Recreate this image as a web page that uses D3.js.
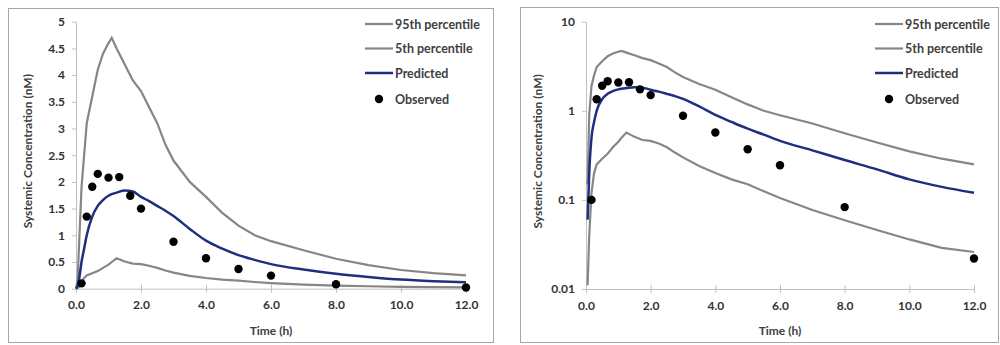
<!DOCTYPE html>
<html>
<head>
<meta charset="utf-8">
<script src="https://cdn.jsdelivr.net/npm/d3@7"></script>
<style>
  body { margin: 0; background: #fff; }
  svg text { font-family: Lato, "Open Sans", sans-serif; font-weight: bold; fill: #404040; }
</style>
</head>
<body>
<svg id="chart" width="1000" height="345"></svg>
<script>
// model time grid (h)
const modelTime = [0, 0.05, 0.1, 0.17, 0.25, 0.33, 0.5, 0.67, 0.83, 1.0, 1.1, 1.25, 1.5, 1.75, 2.0, 2.25, 2.5, 2.75, 3.0, 3.5, 4.0, 4.5, 5.0, 5.5, 6.0, 7.0, 8.0, 9.0, 10.0, 11.0, 12.0];
const p95 = [0, 0.15, 0.9, 1.9, 2.5, 3.1, 3.6, 4.1, 4.4, 4.6, 4.7, 4.5, 4.2, 3.9, 3.7, 3.4, 3.1, 2.7, 2.4, 2.0, 1.72, 1.42, 1.18, 1.0, 0.89, 0.72, 0.56, 0.44, 0.35, 0.29, 0.25];
const p05 = [0, 0.011, 0.04, 0.12, 0.2, 0.25, 0.29, 0.33, 0.39, 0.45, 0.5, 0.57, 0.51, 0.47, 0.46, 0.43, 0.39, 0.34, 0.30, 0.24, 0.20, 0.17, 0.15, 0.125, 0.105, 0.077, 0.059, 0.046, 0.036, 0.029, 0.026];
const predicted = [0, 0.06, 0.2, 0.5, 0.75, 1.0, 1.35, 1.55, 1.66, 1.74, 1.77, 1.8, 1.84, 1.82, 1.72, 1.64, 1.55, 1.46, 1.36, 1.12, 0.9, 0.75, 0.63, 0.54, 0.46, 0.36, 0.28, 0.22, 0.17, 0.14, 0.12];

// observed data
const obsTime = [0.17, 0.33, 0.5, 0.67, 1.0, 1.33, 1.67, 2.0, 3.0, 4.0, 5.0, 6.0, 8.0, 12.0];
const observed = [0.1, 1.35, 1.91, 2.15, 2.08, 2.09, 1.74, 1.5, 0.88, 0.57, 0.37, 0.245, 0.083, 0.022];

const xTicks = [0, 2, 4, 6, 8, 10, 12];
const linTicks = [0, 0.5, 1, 1.5, 2, 2.5, 3, 3.5, 4, 4.5, 5];
const logTicks = [0.01, 0.1, 1, 10];

const legendNames = ['95th percentile', '5th percentile', 'Predicted', 'Observed'];
const gray = '#868686', blue = '#1f2f80';

const svg = d3.select('#chart');

function panel(opt) {
  const g = svg.append('g');
  // frame
  g.append('rect')
    .attr('x', opt.box[0] + 0.5).attr('y', opt.box[1] + 0.5)
    .attr('width', opt.box[2]).attr('height', opt.box[3])
    .attr('fill', 'none').attr('stroke', '#a6a6a6');

  const x = d3.scaleLinear().domain([0, 12]).range([opt.left, opt.right]);
  const y = opt.log
    ? d3.scaleLog().domain([0.01, 10]).range([opt.bottom, opt.top])
    : d3.scaleLinear().domain([0, 5]).range([opt.bottom, opt.top]);

  // x axis
  const xa = g.append('g').attr('transform', `translate(0,${opt.bottom})`)
    .call(d3.axisBottom(x).tickValues(xTicks).tickFormat(d3.format('.1f')).tickSizeInner(4).tickSizeOuter(0).tickPadding(8));
  xa.selectAll('.tick line').attr('y1', -4);
  // y axis
  const ya = g.append('g').attr('transform', `translate(${opt.left},0)`)
    .call(d3.axisLeft(y).tickValues(opt.log ? logTicks : linTicks)
      .tickFormat(opt.log ? d => d3.format('')(d) : d => d).tickSizeInner(4).tickSizeOuter(0).tickPadding(7));
  g.selectAll('.domain, .tick line').attr('stroke', '#c0c0c0');
  g.selectAll('.tick text').style('font-size', '12px').style('fill', '#333');

  // titles
  g.append('text').attr('x', (opt.left + opt.right) / 2).attr('y', 335)
    .attr('text-anchor', 'middle').style('font-size', '12px').text('Time (h)');
  g.append('text')
    .attr('transform', `translate(${opt.titleX},${(opt.top + opt.bottom) / 2 - 4}) rotate(-90)`)
    .attr('text-anchor', 'middle').style('font-size', '12px').text('Systemic Concentration (nM)');

  const ok = v => !opt.log || v > 0;
  const line = (vals, curve) => d3.line()
    .defined((d, i) => ok(vals[i]))
    .x((d, i) => x(modelTime[i]))
    .y((d, i) => y(vals[i]))
    .curve(curve || d3.curveLinear)(vals);

  g.append('path').attr('d', line(p95)).attr('fill', 'none').attr('stroke', gray).attr('stroke-width', 2.2);
  g.append('path').attr('d', line(p05)).attr('fill', 'none').attr('stroke', gray).attr('stroke-width', 2.2);
  g.append('path').attr('d', line(predicted, d3.curveMonotoneX)).attr('fill', 'none').attr('stroke', blue).attr('stroke-width', 2.5);

  g.selectAll('circle.obs').data(obsTime).join('circle').attr('class', 'obs')
    .attr('cx', d => x(d)).attr('cy', (d, i) => y(observed[i]))
    .attr('r', 4.2).attr('fill', '#000');

  // legend
  const lg = g.append('g').attr('transform', `translate(${opt.legX},0)`);
  const rows = [24, 48.5, 73, 99];
  legendNames.forEach((name, i) => {
    if (i < 3) {
      lg.append('line').attr('x1', 0).attr('x2', 28).attr('y1', rows[i]).attr('y2', rows[i])
        .attr('stroke', i < 2 ? gray : blue).attr('stroke-width', i < 2 ? 2.2 : 2.5);
    } else {
      lg.append('circle').attr('cx', 14).attr('cy', rows[i]).attr('r', 4.2).attr('fill', '#000');
    }
    lg.append('text').attr('x', 30).attr('y', rows[i] + 4.5).style('font-size', '12.5px').text(name);
  });
}

panel({ box: [8, 8, 485, 334], left: 76, right: 466, top: 21.7, bottom: 288.7, log: false, titleX: 32, legX: 365 });
panel({ box: [520, 7, 478, 335], left: 586, right: 974, top: 21.7, bottom: 289, log: true, titleX: 542, legX: 875 });
</script>
</body>
</html>
